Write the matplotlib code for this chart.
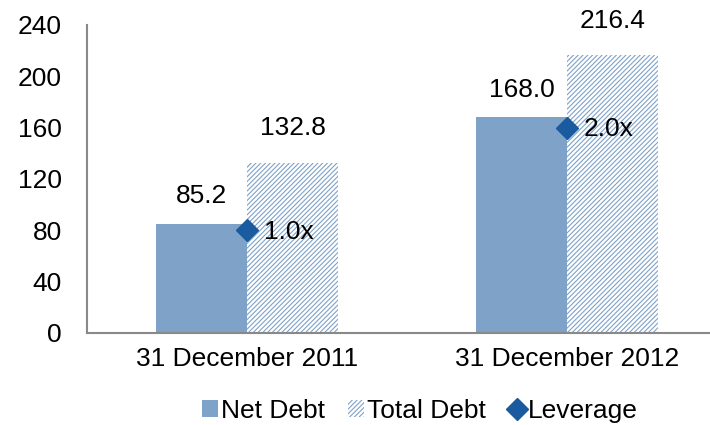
import matplotlib
matplotlib.use("Agg")
import matplotlib.pyplot as plt
import numpy as np

plt.rcParams['font.family'] = ['Liberation Sans', 'DejaVu Sans']
plt.rcParams['hatch.linewidth'] = 0.8

# data
categories = ['31 December 2011', '31 December 2012']
net_debt = [85.2, 168.0]
total_debt = [132.8, 216.4]
leverage = [1.0, 2.0]
y_ticks = [0, 40, 80, 120, 160, 200, 240]

c_net = '#7FA2C8'
c_hatch = '#7FA2C8'
c_lev = '#1A5A9E'
c_axis = '#898989'
fs = 19

fig = plt.figure(figsize=(7.1, 4.25), dpi=100)
ax = fig.add_axes([87 / 710, 1 - 333 / 425, 623 / 710, 308 / 425])

x = np.arange(len(categories))
w = 0.284

ax.bar(x - w / 2, net_debt, w, color=c_net, edgecolor='none', label='Net Debt')
ax.bar(x + w / 2, total_debt, w, color='white', edgecolor=c_hatch, linewidth=0,
       hatch='///////', label='Total Debt')

for i in range(len(categories)):
    ax.annotate('{:.1f}'.format(net_debt[i]), (x[i] - w / 2, net_debt[i]),
                xytext=(0, 20), textcoords='offset points', ha='center', va='center', fontsize=fs)
    ax.annotate('{:.1f}'.format(total_debt[i]), (x[i] + w / 2, total_debt[i]),
                xytext=(0, 25), textcoords='offset points', ha='center', va='center', fontsize=fs)

ax.set_xlim(-0.5, -0.5 + 623 / 320)
ax.set_ylim(0, 240)
ax.set_yticks(y_ticks)
ax.set_xticks(x)
ax.set_xticklabels(categories)
ax.tick_params(axis='y', length=0, pad=18, labelsize=fs)
ax.tick_params(axis='x', length=0, pad=10, labelsize=fs)
for s in ['top', 'right']:
    ax.spines[s].set_visible(False)
for s in ['left', 'bottom']:
    ax.spines[s].set_color(c_axis)
    ax.spines[s].set_linewidth(1.5)

# leverage on hidden secondary axis
ax2 = ax.twinx()
ax2.set_ylim(0, 3)
ax2.plot(x, leverage, linestyle='none', marker='D', markersize=11, color=c_lev, label='Leverage')
for i in range(len(categories)):
    ax2.annotate('{:.1f}x'.format(leverage[i]), (x[i], leverage[i]),
                 xytext=(12, -1), textcoords='offset points', ha='left', va='center', fontsize=fs)
ax2.axis('off')

h1, l1 = ax.get_legend_handles_labels()
h2, l2 = ax2.get_legend_handles_labels()
fig.legend(h1 + h2, l1 + l2, loc='center', bbox_to_anchor=(420 / 710, 1 - 411 / 425),
           ncol=3, frameon=False, fontsize=fs, handlelength=0.6, handleheight=0.6,
           handletextpad=0.1, columnspacing=0.9, borderpad=0)

plt.savefig('out.png', dpi=100)
